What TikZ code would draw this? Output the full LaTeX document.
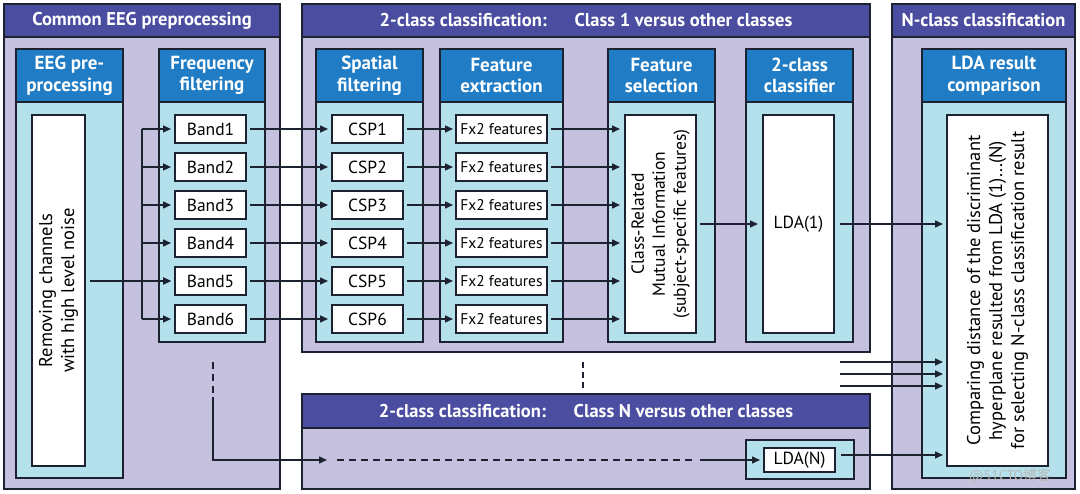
\documentclass[tikz,border=0pt]{standalone}
\usepackage{fontspec}
\setmainfont{PT Sans}
\newfontfamily\cjkfont{Noto Sans CJK SC}
\usetikzlibrary{arrows.meta}
\definecolor{titleblue}{RGB}{74,77,160}
\definecolor{panelbg}{RGB}{198,193,223}
\definecolor{headblue}{RGB}{32,124,196}
\definecolor{colbg}{RGB}{180,225,235}
\definecolor{edge}{RGB}{28,34,48}
\newcommand\rbox[7]{\node[#2, minimum width={#5-#3}, minimum height={#6-#4}, anchor=north west] (#1) at (#3,#4) {#7};}
\tikzset{
  x=1pt,y=-1pt,
  base/.style={draw=edge, line width=1.6pt, inner sep=0pt, outer sep=0pt, align=center},
  panelbody/.style={base, fill=panelbg},
  paneltitle/.style={base, fill=titleblue, text=white, font=\fontsize{18.5}{21}\selectfont\bfseries},
  colhead/.style={base, fill=headblue, text=white, font=\fontsize{19}{21.5}\selectfont\bfseries},
  colbody/.style={base, fill=colbg},
  wbox/.style={base, fill=white, font=\fontsize{17.5}{19}\selectfont},
  fxbox/.style={base, fill=white, font=\fontsize{15.5}{17}\selectfont},
  rottext/.style={rotate=90, align=center, font=\fontsize{18.5}{22}\selectfont, inner sep=0pt},
  arr/.style={draw=edge, line width=1.5pt, -{Triangle[length=8pt,width=7pt]}},
  ln/.style={draw=edge, line width=1.5pt},
  dln/.style={draw=edge, line width=1.5pt, dash pattern=on 7pt off 5pt},
}
\begin{document}
\begin{tikzpicture}
\useasboundingbox[fill=white] (0,0) rectangle (1080,494);
% ---------- panels ----------
\rbox{P1}{panelbody}{4}{4}{280}{489}{}
\rbox{P1t}{paneltitle}{4}{4}{280}{37}{Common EEG preprocessing}
\rbox{P2}{panelbody}{302}{4}{870}{352}{}
\rbox{P2t}{paneltitle}{302}{4}{870}{37}{2-class classification:\hspace{1.5em}Class 1 versus other classes}
\rbox{P3}{panelbody}{892}{4}{1075}{489}{}
\rbox{P3t}{paneltitle}{892}{4}{1075}{37}{N-class classification}
\rbox{P4}{panelbody}{302}{394}{870}{489}{}
\rbox{P4t}{paneltitle}{302}{394}{870}{428}{2-class classification:\hspace{1.5em}Class N versus other classes}
% ---------- columns ----------
\rbox{C1}{colbody}{16}{102}{123}{478}{}
\rbox{C1h}{colhead}{16}{49}{123}{102}{EEG pre-\\processing}
\rbox{C2}{colbody}{159}{102}{265}{342}{}
\rbox{C2h}{colhead}{159}{49}{265}{102}{Frequency\\filtering}
\rbox{C3}{colbody}{316}{102}{423}{342}{}
\rbox{C3h}{colhead}{316}{49}{423}{102}{Spatial\\filtering}
\rbox{C4}{colbody}{440}{102}{563}{342}{}
\rbox{C4h}{colhead}{440}{49}{563}{102}{Feature\\extraction}
\rbox{C5}{colbody}{608}{102}{715}{342}{}
\rbox{C5h}{colhead}{608}{49}{715}{102}{Feature\\selection}
\rbox{C6}{colbody}{746}{102}{853}{342}{}
\rbox{C6h}{colhead}{746}{49}{853}{102}{2-class\\classifier}
\rbox{C7}{colbody}{922}{102}{1066}{478}{}
\rbox{C7h}{colhead}{922}{49}{1066}{102}{LDA result\\comparison}
\rbox{C8}{colbody}{746}{440}{854}{479}{}
% ---------- white boxes ----------
\rbox{W1}{wbox}{32}{115}{85}{466}{}
\node[rottext] at (W1.center) {Removing channels\\with high level noise};
\rbox{W5}{wbox}{625}{115}{696}{333}{}
\node[rottext, font=\fontsize{17.5}{21}\selectfont] at (W5.center) {Class-Related\\Mutual Information\\(subject-specific features)};
\rbox{W6}{wbox}{763}{115}{834}{333}{LDA(1)}
\rbox{W7}{wbox}{947}{115}{1048}{466}{}
\node[rottext] at (W7.center) {Comparing distance of the discriminant\\hyperplane resulted from LDA (1)...(N)\\for selecting N-class classification result};
\rbox{LDAN}{wbox}{764}{448}{835}{472}{LDA(N)}
% ---------- rows ----------
\foreach \i/\y in {1/115,2/153,3/191,4/229,5/267,6/305}{
  \pgfmathsetmacro\yb{\y+28}
  \rbox{band\i}{wbox}{175}{\y}{246}{\yb}{Band\i}
  \rbox{csp\i}{wbox}{332}{\y}{403}{\yb}{CSP\i}
  \rbox{fx\i}{fxbox}{456}{\y}{547}{\yb}{Fx2 features}
}
% ---------- connectors ----------
\coordinate (jx) at (142,0);
\draw[ln] (jx |- band1.west) -- (jx |- band6.west);
\draw[arr, shorten <=5pt, shorten >=4pt] (W1.east |- band5.west) -- (band5.west);
\foreach \i in {1,...,6}{
  \draw[arr, shorten >=4pt] (jx |- band\i.west) -- (band\i.west);
  \draw[arr, shorten <=4pt, shorten >=4pt] (band\i.east) -- (csp\i.west);
  \draw[arr, shorten <=4pt, shorten >=3pt] (csp\i.east) -- (fx\i.west);
  \draw[arr, shorten <=4pt, shorten >=5pt] (fx\i.east) -- (W5.west |- fx\i.east);
}
\draw[arr, shorten <=4pt, shorten >=5pt] (W5.east |- W6.west) -- (W6.west);
\draw[arr, shorten <=6pt, shorten >=4pt] (W6.east) -- (W7.west |- W6.east);
\coordinate (f1) at (840,362);
\coordinate (f2) at (840,374);
\coordinate (f3) at (840,386);
\foreach \f in {f1,f2,f3}{
  \draw[arr, shorten >=4pt] (\f) -- (W7.west |- \f);
}
\coordinate (ldanout) at ([yshift=5pt]LDAN.east);
\draw[arr, shorten <=6pt, shorten >=4pt] (ldanout) -- (W7.west |- ldanout);
% bottom path to LDA(N)
\coordinate (d1) at (213,362);
\coordinate (d2) at (213,397);
\coordinate (d3) at (213,460);
\coordinate (d4) at (327,460);
\coordinate (d5) at (337,460);
\coordinate (d6) at (692,460);
\coordinate (d7) at (700,460);
\draw[dln] (d1) -- (d2);
\draw[arr, line join=miter] (d2) -- (d3) -- (d4);
\draw[dln] (d5) -- (d6);
\draw[arr, shorten >=4pt] (d7) -- (LDAN.west);
\coordinate (v1) at (583,362);
\coordinate (v2) at (583,390);
\draw[dln, dash pattern=on 6pt off 4pt] (v1) -- (v2);
% watermark
\node[text=gray!55, font=\fontsize{14}{16}\selectfont] (wm) at (1010,476) {@51CTO{\cjkfont 博客}};
\end{tikzpicture}
\end{document}
